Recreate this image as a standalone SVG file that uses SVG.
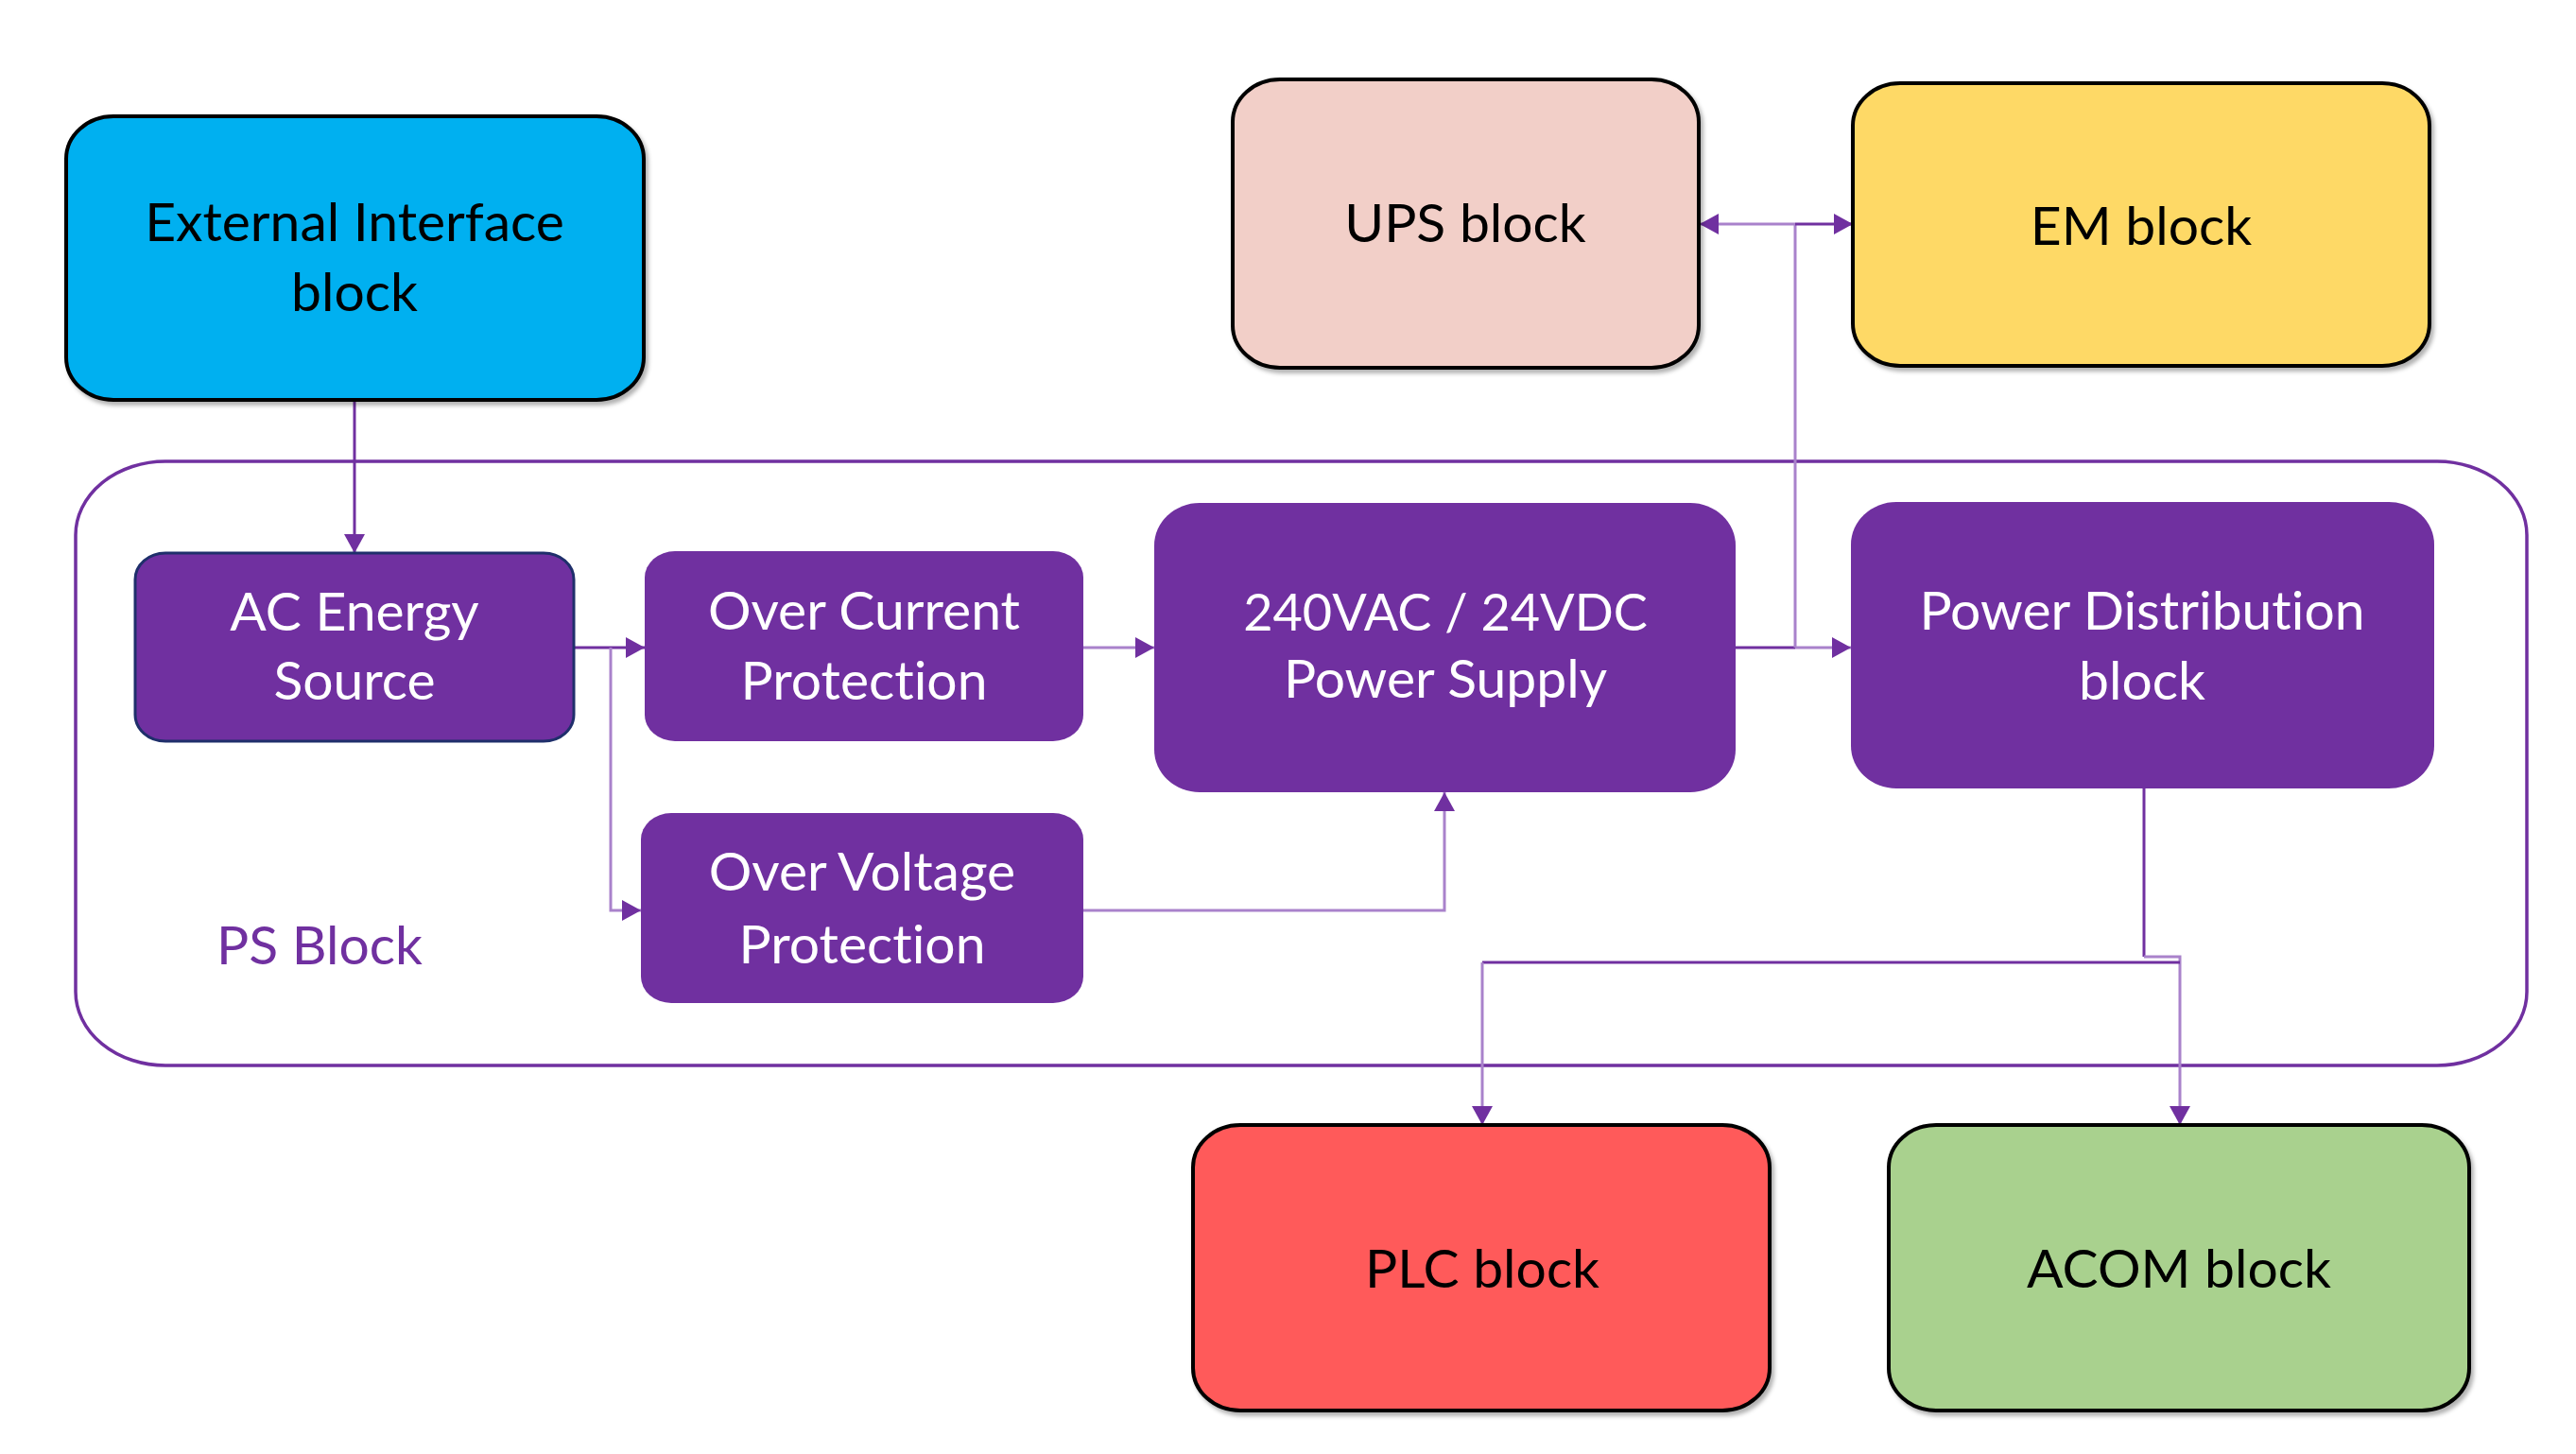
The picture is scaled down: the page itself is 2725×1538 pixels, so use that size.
<svg xmlns="http://www.w3.org/2000/svg" width="2725" height="1538" viewBox="0 0 2725 1538">
  <style>
    .lbl { font-family: Lato, "Liberation Sans", sans-serif; font-size: 57px; text-anchor: middle; font-variant-ligatures: none; font-feature-settings: "liga" 0; }
    .dark { fill: #000000; }
    .light { fill: #FFFFFF; }
    .box { stroke: #000000; stroke-width: 4; }
    .pbox { fill: #7030A0; }
    .wire { fill: none; stroke: #7030A0; stroke-width: 3; }
    .wire-l { fill: none; stroke: #A982CB; stroke-width: 3; }
  </style>
  <defs>
    <marker id="arrow" markerUnits="userSpaceOnUse" markerWidth="22" markerHeight="22" refX="20" refY="11" orient="auto">
      <path d="M0,0 L20,11 L0,22 Z" fill="#7030A0"/>
    </marker>
    <filter id="shadow" x="-5%" y="-5%" width="110%" height="115%">
      <feDropShadow dx="3" dy="4" stdDeviation="2" flood-color="#000000" flood-opacity="0.3"/>
    </filter>
  </defs>
  <rect width="2725" height="1538" fill="#FFFFFF"/>

  <!-- PS Block container -->
  <g id="ps-block">
    <rect x="80" y="488" width="2593" height="639" rx="95" ry="78" fill="none" stroke="#7030A0" stroke-width="3.5"/>
    <text class="lbl" x="229" y="1020" style="text-anchor:start" fill="#7030A0">PS Block</text>
  </g>

  <!-- Connectors -->
  <g id="connectors">
    <!-- External Interface -> AC Energy Source -->
    <path class="wire" d="M375,423 L375,585" marker-end="url(#arrow)"/>
    <!-- AC Energy Source -> Over Current Protection -->
    <path class="wire" d="M607,685 L682,685" marker-end="url(#arrow)"/>
    <!-- AC Energy Source -> Over Voltage Protection -->
    <path class="wire-l" d="M646,685 L646,963 L678,963" marker-end="url(#arrow)"/>
    <!-- Over Current -> Power Supply -->
    <path class="wire-l" d="M1146,685 L1221,685" marker-end="url(#arrow)"/>
    <!-- Over Voltage -> Power Supply -->
    <path class="wire-l" d="M1146,963 L1528,963 L1528,838" marker-end="url(#arrow)"/>
    <!-- Power Supply -> Power Distribution -->
    <path class="wire" d="M1836,685 L1899,685"/>
    <path class="wire-l" d="M1899,685 L1958,685" marker-end="url(#arrow)"/>
    <!-- Power Supply -> UPS / EM -->
    <path class="wire-l" d="M1899,685 L1899,237"/>
    <path class="wire-l" d="M1899,237 L1798,237" marker-end="url(#arrow)"/>
    <path class="wire" d="M1899,237 L1960,237" marker-end="url(#arrow)"/>
    <!-- Power Distribution -> ACOM -->
    <path class="wire" d="M2268,834 L2268,1012"/>
    <path class="wire-l" d="M2268,1012 L2306,1012 L2306,1190" marker-end="url(#arrow)"/>
    <!-- Power Distribution -> PLC -->
    <path class="wire" d="M2306,1018 L1568,1018"/>
    <path class="wire-l" d="M1568,1018 L1568,1190" marker-end="url(#arrow)"/>
  </g>

  <!-- External Interface block -->
  <g id="external-interface">
    <rect class="box" x="70" y="123" width="611" height="300" rx="50" ry="45" fill="#00B0F0" filter="url(#shadow)"/>
    <text class="lbl dark" x="375" y="255">External Interface</text>
    <text class="lbl dark" x="375" y="329">block</text>
  </g>

  <!-- UPS block -->
  <g id="ups">
    <rect class="box" x="1304" y="84" width="493" height="305" rx="50" ry="45" fill="#F2CFC8" filter="url(#shadow)"/>
    <text class="lbl dark" x="1550" y="256">UPS block</text>
  </g>

  <!-- EM block -->
  <g id="em">
    <rect class="box" x="1960" y="88" width="610" height="299" rx="50" ry="45" fill="#FED966" filter="url(#shadow)"/>
    <text class="lbl dark" x="2265" y="259">EM block</text>
  </g>

  <!-- AC Energy Source -->
  <g id="ac-energy-source">
    <rect x="143" y="585" width="464" height="199" rx="32" ry="28" fill="#7030A0" stroke="#1F2F6B" stroke-width="3"/>
    <text class="lbl light" x="375" y="667">AC Energy</text>
    <text class="lbl light" x="375" y="740">Source</text>
  </g>

  <!-- Over Current Protection -->
  <g id="over-current">
    <rect class="pbox" x="682" y="583" width="464" height="201" rx="32" ry="28"/>
    <text class="lbl light" x="914" y="666">Over Current</text>
    <text class="lbl light" x="914" y="740">Protection</text>
  </g>

  <!-- Over Voltage Protection -->
  <g id="over-voltage">
    <rect class="pbox" x="678" y="860" width="468" height="201" rx="32" ry="28"/>
    <text class="lbl light" x="912" y="942">Over Voltage</text>
    <text class="lbl light" x="912" y="1019">Protection</text>
  </g>

  <!-- 240VAC / 24VDC Power Supply -->
  <g id="power-supply">
    <rect class="pbox" x="1221" y="532" width="615" height="306" rx="48" ry="45"/>
    <text class="lbl light" x="1529" y="667" style="font-size:54px">240VAC / 24VDC</text>
    <text class="lbl light" x="1529" y="738">Power Supply</text>
  </g>

  <!-- Power Distribution block -->
  <g id="power-distribution">
    <rect class="pbox" x="1958" y="531" width="617" height="303" rx="48" ry="45"/>
    <text class="lbl light" x="2266" y="666">Power Distribution</text>
    <text class="lbl light" x="2266" y="740">block</text>
  </g>

  <!-- PLC block -->
  <g id="plc">
    <rect class="box" x="1262" y="1190" width="610" height="302" rx="50" ry="45" fill="#FF5A5A" filter="url(#shadow)"/>
    <text class="lbl dark" x="1568" y="1362">PLC block</text>
  </g>

  <!-- ACOM block -->
  <g id="acom">
    <rect class="box" x="1998" y="1190" width="614" height="302" rx="50" ry="45" fill="#A9D18E" filter="url(#shadow)"/>
    <text class="lbl dark" x="2305" y="1362">ACOM block</text>
  </g>
</svg>
